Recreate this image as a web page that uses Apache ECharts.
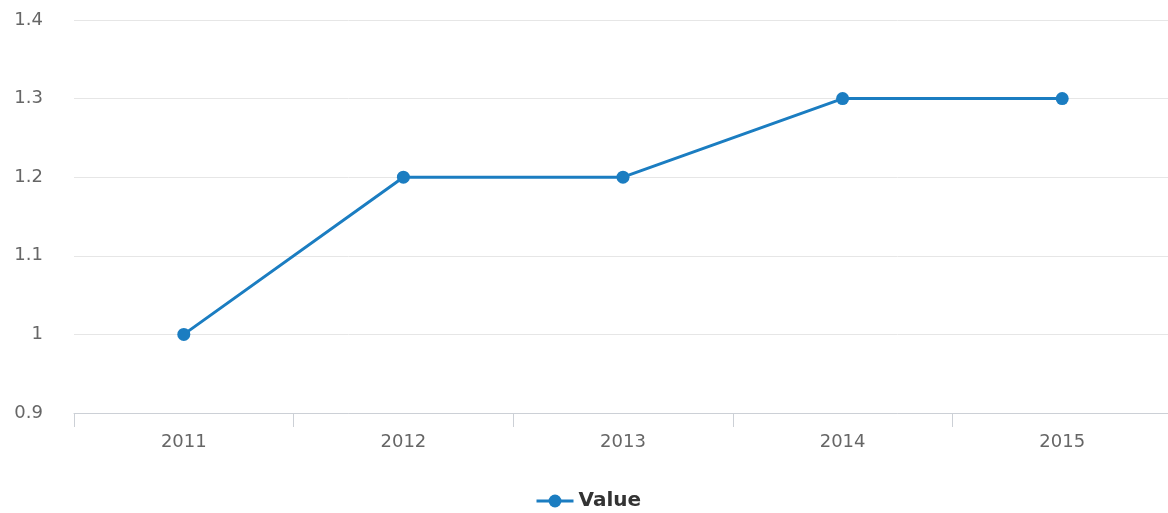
<!DOCTYPE html>
<html>
<head>
<meta charset="utf-8">
<script src="https://cdn.jsdelivr.net/npm/echarts@6/dist/echarts.min.js"></script>
<style>
  html, body { margin: 0; padding: 0; background: #fff; overflow: hidden; }
  #chart { width: 1172px; height: 513px; }
</style>
</head>
<body>
<div id="chart"></div>
<script>
const years = ['2011', '2012', '2013', '2014', '2015'];
const values = [1.0, 1.2, 1.2, 1.3, 1.3];
const seriesName = 'Value';

const FONT = 'DejaVu Sans';
const chart = echarts.init(document.getElementById('chart'), null, { renderer: 'canvas' });
chart.setOption({
  animation: false,
  textStyle: { fontFamily: FONT },
  grid: { left: 74, right: 0, top: 20, bottom: 100, containLabel: false },
  legend: {
    top: 486,
    left: 530,
    itemWidth: 37,
    itemHeight: 16,
    itemGap: 8,
    lineStyle: { width: 3 },
    textStyle: { fontSize: 20, fontWeight: 'bold', color: '#333', fontFamily: FONT },
    data: [seriesName]
  },
  xAxis: {
    type: 'category',
    data: years,
    boundaryGap: true,
    axisLine: { lineStyle: { color: '#ccd0d6', width: 1 } },
    axisTick: { show: true, length: 14, lineStyle: { color: '#ccd0d6' } },
    axisLabel: { color: '#666', fontSize: 18, margin: 20, fontFamily: FONT }
  },
  yAxis: {
    type: 'value',
    min: 0.9,
    max: 1.4,
    interval: 0.1,
    axisLine: { show: false },
    axisTick: { show: false },
    splitLine: { lineStyle: { color: '#e6e6e6' } },
    axisLabel: {
      color: '#666',
      fontSize: 18,
      margin: 31,
      fontFamily: FONT,
      formatter: v => String(Math.round(v * 10) / 10)
    }
  },
  series: [{
    name: seriesName,
    type: 'line',
    data: values,
    symbol: 'circle',
    symbolSize: 13,
    lineStyle: { color: '#1b7dc1', width: 3 },
    itemStyle: { color: '#1b7dc1' }
  }]
});
</script>
</body>
</html>
